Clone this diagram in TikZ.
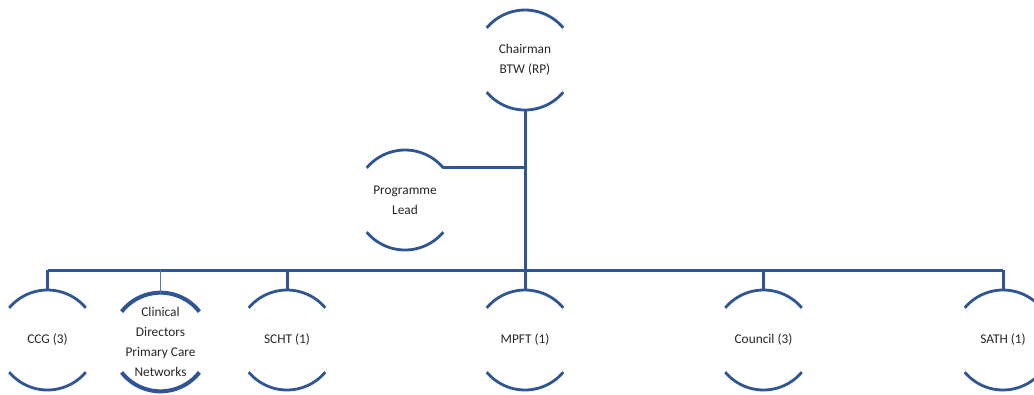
\documentclass[tikz,border=0pt]{standalone}
\usepackage{fontspec}
\setmainfont{Carlito}
\definecolor{bl}{RGB}{47,85,151}
\begin{document}
\begin{tikzpicture}[x=0.75pt,y=-0.75pt,
  lbl/.style={align=center, font=\fontsize{10}{15}\selectfont, text=black!85, inner sep=0pt},
  ln/.style={draw=bl, line width=2.25pt},
  thinln/.style={draw=bl!80, line width=0.9pt},
  arcs/.style={draw=bl, line width=2.1pt},
  heavyarcs/.style={draw=bl, line width=3pt},
]
\useasboundingbox (0,0) rectangle (1034,394);
\clip (0,0) rectangle (1034,394);
\node[lbl] (chair) at (525,60) {Chairman\\BTW (RP)};
\node[lbl] (prog) at (405,200) {Programme\\Lead};
\node[lbl] (ccg) at (47.5,340) {CCG (3)};
\node[lbl] (cd) at (160.5,342) {Clinical\\Directors\\Primary Care\\Networks};
\node[lbl] (scht) at (287,340) {SCHT (1)};
\node[lbl] (mpft) at (525,340) {MPFT (1)};
\node[lbl] (council) at (763.5,340) {Council (3)};
\node[lbl] (sath) at (1003,340) {SATH (1)};
\foreach \n in {chair,prog,ccg,scht,mpft,council,sath}{
  \draw[arcs] ([shift={(40:37.5pt)}]\n.center) arc[start angle=40,end angle=140,radius=37.5pt];
  \draw[arcs] ([shift={(220:37.5pt)}]\n.center) arc[start angle=220,end angle=320,radius=37.5pt];
}
\draw[heavyarcs] ([shift={(38:37pt)}]cd.center) arc[start angle=38,end angle=142,radius=37pt];
\draw[heavyarcs] ([shift={(218:37pt)}]cd.center) arc[start angle=218,end angle=322,radius=37pt];
\coordinate (bus) at (525,270);
\coordinate (progtr) at ([shift={(40:37.5pt)}]prog.center);
\draw[ln] ([yshift=-37.5pt]chair.center) -- ([yshift=37.5pt]mpft.center);
\draw[ln] (progtr) -- (progtr -| chair.center);
\draw[ln] (ccg.center |- bus) -- (sath.center |- bus);
\foreach \n in {ccg,scht,council,sath}{
  \draw[ln] (\n.center |- bus) -- ([yshift=37.5pt]\n.center);
}
\draw[thinln] (cd.center |- bus) -- ([yshift=37pt]cd.center);
\end{tikzpicture}
\end{document}
